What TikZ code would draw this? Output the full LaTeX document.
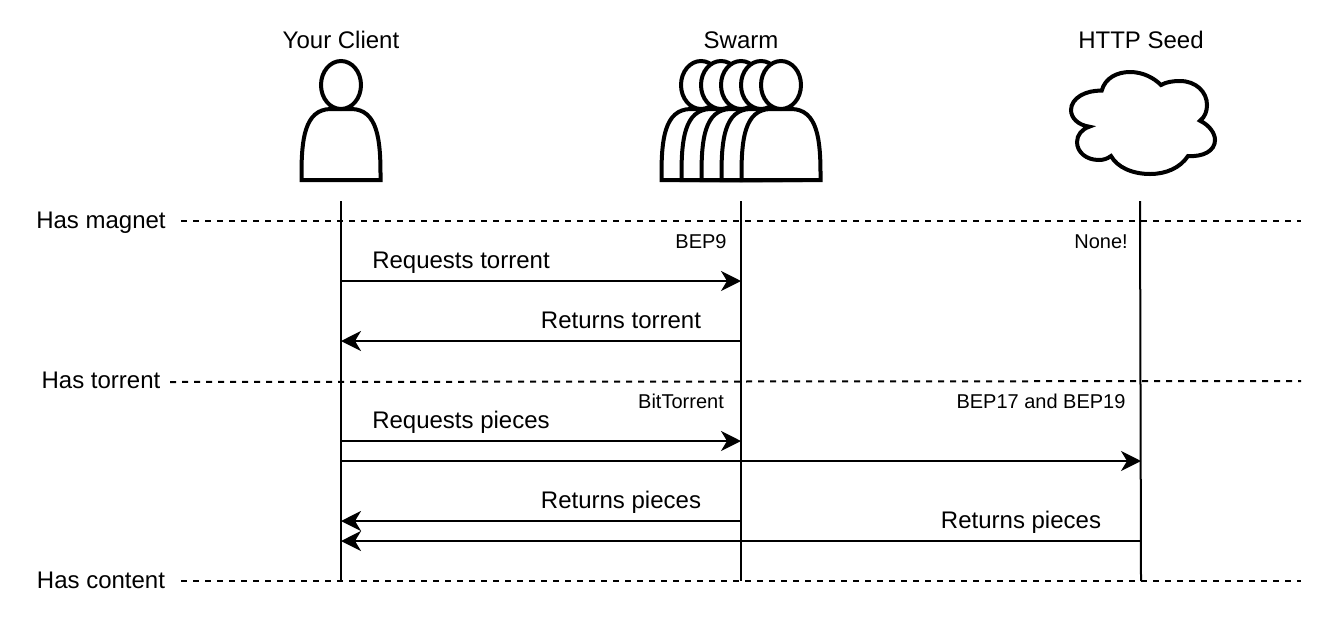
\documentclass[tikz,border=0pt]{standalone}
\usepackage{fontspec}
\setmainfont{Liberation Sans}
\usetikzlibrary{arrows.meta,positioning,calc}

\begin{document}
\begin{tikzpicture}[x=1pt, y=-1pt, >={Stealth[length=20pt,width=20pt,inset=6pt]}]

%local definitions
\tikzstyle{Title} = [font=\fontsize{24}{28}\selectfont, inner sep=0pt, anchor=base]
\tikzstyle{Note} = [font=\fontsize{20}{24}\selectfont, inner sep=0pt, anchor=base]
\tikzstyle{Lifeline} = [line width=2pt]
\tikzstyle{Stage} = [line width=2pt, dash pattern=on 6pt off 6pt]
\tikzstyle{Message} = [line width=2pt, ->]
\tikzstyle{Figure} = [line width=4pt, fill=white]
\tikzset{person/.pic={
	\draw [Figure] (-39.5,95) -- (-39.5,90) .. controls (-39.5,56) and (-37,24) .. (-10,24)
		-- (10,24) .. controls (37,24) and (39.5,56) .. (39.5,90) -- (39.5,95) -- cycle;
	\draw [Figure] (0,0) ellipse (20 and 24);
}}

\useasboundingbox (0,0) rectangle (1324,622);

%actors
	\node [Title] (clientName) at (341,48) {Your Client};
	\node [Title] (swarmName) at (741,48) {Swarm};
	\node [Title] (seedName) at (1141,48) {HTTP Seed};

	\pic at (341,85) {person};
	\pic at (701,85) {person};
	\pic at (721,85) {person};
	\pic at (741,85) {person};
	\pic at (761,85) {person};
	\pic at (781,85) {person};

	\draw [Figure] (1101.7,90.7) .. controls (1105,78) and (1117,72) .. (1130,72)
		.. controls (1143,72) and (1154,78) .. (1161,85)
		.. controls (1166,82) and (1173,81) .. (1180,81)
		.. controls (1196,81) and (1207,92) .. (1207,105)
		.. controls (1207,111) and (1205,117) .. (1200,120.7)
		.. controls (1209,125) and (1215,133) .. (1215,140)
		.. controls (1215,151) and (1203,157) .. (1188,156)
		.. controls (1180,168) and (1166,174) .. (1150,174)
		.. controls (1132,174) and (1117,167) .. (1111,156)
		.. controls (1107,159) and (1103,160) .. (1099,160)
		.. controls (1086,160) and (1077,152) .. (1077,142)
		.. controls (1077,135) and (1082,129) .. (1089.3,126.7)
		.. controls (1078,125) and (1071,118) .. (1071,110)
		.. controls (1071,98) and (1086,90) .. (1101.7,90.7) -- cycle;

%lifelines
	\coordinate (clientTop) at (341,201);
	\coordinate (clientEnd) at (341,581);
	\coordinate (swarmTop) at (741,201);
	\coordinate (swarmEnd) at (741,581);
	\coordinate (seedTop) at (1140,201);
	\coordinate (seedEnd) at (1141,581);

	\draw [Lifeline] (clientTop) -- (clientEnd);
	\draw [Lifeline] (swarmTop) -- (swarmEnd);
	\draw [Lifeline] (seedTop) -- (seedEnd);

%stages
	\node [Title] (hasMagnet) at (101,228) {Has magnet};
	\node [Title] (hasTorrent) at (101,388) {Has torrent};
	\node [Title] (hasContent) at (101,588) {Has content};

	\coordinate (magnetStart) at (181,221);
	\coordinate (magnetEnd) at (1301,221);
	\coordinate (torrentStart) at (170,382);
	\coordinate (torrentEnd) at (1301,381);
	\coordinate (contentStart) at (181,581);
	\coordinate (contentEnd) at (1301,581);

	\draw [Stage] (magnetStart) -- (magnetEnd);
	\draw [Stage] (torrentStart) -- (torrentEnd);
	\draw [Stage] (contentStart) -- (contentEnd);

%message heights
	\coordinate (levelA) at (0,281);
	\coordinate (levelB) at (0,341);
	\coordinate (levelC) at (0,441);
	\coordinate (levelD) at (0,461);
	\coordinate (levelE) at (0,521);
	\coordinate (levelF) at (0,541);

%connections
	\draw [Message] (clientEnd |- levelA) -- (swarmEnd |- levelA);
	\draw [Message] (swarmEnd |- levelB) -- (clientEnd |- levelB);
	\draw [Message] (clientEnd |- levelC) -- (swarmEnd |- levelC);
	\draw [Message] (clientEnd |- levelD) -- (seedEnd |- levelD);
	\draw [Message] (swarmEnd |- levelE) -- (clientEnd |- levelE);
	\draw [Message] (seedEnd |- levelF) -- (clientEnd |- levelF);

%message names
	\node [Title] (reqTorrent) at (461,268) {Requests torrent};
	\node [Title] (retTorrent) at (621,328) {Returns torrent};
	\node [Title] (reqPieces) at (461,428) {Requests pieces};
	\node [Title] (retPieces) at (621,508) {Returns pieces};
	\node [Title] (retSeed) at (1021,528) {Returns pieces};

%protocol names
	\node [Note] (bepNine) at (701,248) {BEP9};
	\node [Note] (bepNone) at (1101,248) {None!};
	\node [Note] (bitTorrent) at (681,408) {BitTorrent};
	\node [Note] (bepSeed) at (1041,408) {BEP17 and BEP19};

\end{tikzpicture}
\end{document}
